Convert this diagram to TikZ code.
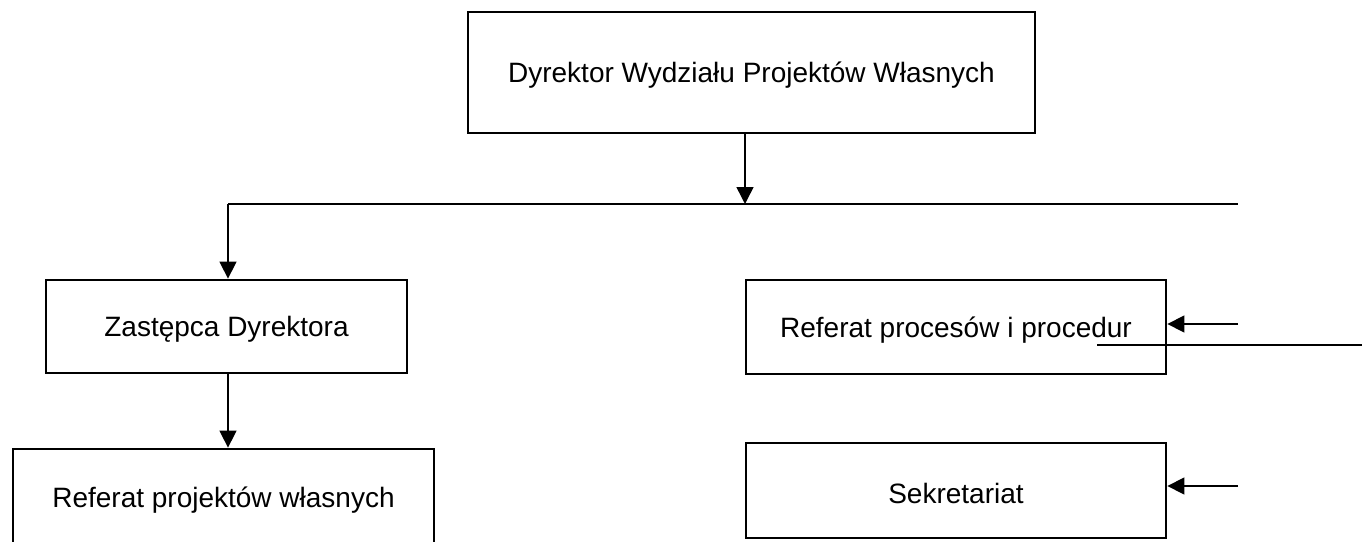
\documentclass[tikz,border=0pt]{standalone}
\usepackage{fontspec}
\setmainfont{Liberation Sans}
\usetikzlibrary{arrows.meta}
\newcommand{\lowtext}[1]{\raisebox{-3pt}[\height][\depth]{#1}}
\begin{document}
\begin{tikzpicture}[x=1pt,y=-1pt,
  box/.style={draw,line width=2.8pt,inner sep=0pt,font=\fontsize{28}{33}\selectfont},
  conn/.style={line width=1.5pt},
  arr/.style={conn,-{Triangle[length=17pt,width=17pt]}}]
\useasboundingbox (0,0) rectangle (1362,541);
\clip (0,0) rectangle (1362,541);
\node[box,minimum width=567pt,minimum height=121pt] (dyr) at (751.5,72.5) {\lowtext{Dyrektor Wydziału Projektów Własnych}};
\node[box,minimum width=361pt,minimum height=93pt] (zast) at (226.5,326.5) {\lowtext{Zastępca Dyrektora}};
\node[box,minimum width=421pt,minimum height=102pt] (rpw) at (223.5,500) {Referat projektów własnych};
\node[box,minimum width=420pt,minimum height=94pt] (rpp) at (956,327) {\lowtext{Referat procesów i procedur}};
\node[box,minimum width=420pt,minimum height=95pt] (sek) at (956,490.5) {\lowtext{Sekretariat}};
\coordinate (hl) at (228,204);
\coordinate (hr) at (1238,204);
\coordinate (dt) at (745,133);
\coordinate (hm) at (745,204);
\coordinate (a1) at (1238,324);
\coordinate (a2) at (1238,486);
\coordinate (l1) at (1097,345);
\coordinate (l2) at (1362,345);
\draw[conn] (hl) -- (hr);
\draw[arr] (dt) -- (hm);
\draw[arr] (hl) -- (zast.north -| hl);
\draw[arr] (zast.south -| hl) -- (rpw.north -| hl);
\draw[arr] (a1) -- (rpp.east |- a1);
\draw[arr] (a2) -- (sek.east |- a2);
\draw[conn] (l1) -- (l2);
\end{tikzpicture}
\end{document}
